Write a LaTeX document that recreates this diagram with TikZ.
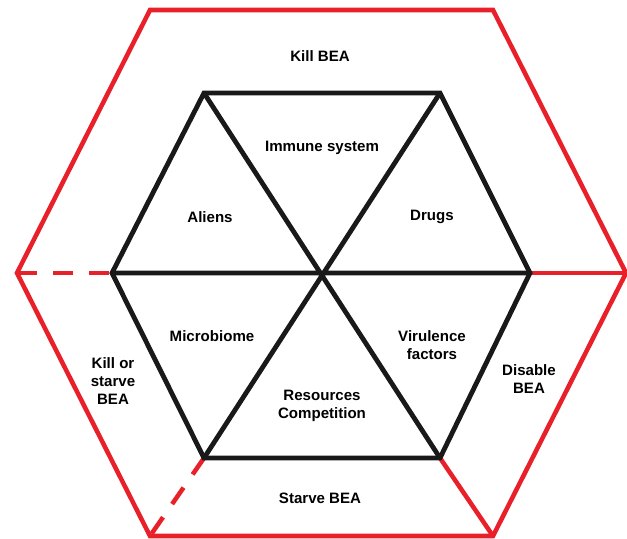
\documentclass[tikz,border=0pt]{standalone}
\usepackage{fontspec}
\setmainfont{Liberation Sans}
\usepackage{xcolor}
\usepackage{tikz}
\definecolor{beared}{HTML}{E8202A}

\begin{document}
\begin{tikzpicture}[x=0.75pt,y=-0.75pt,
    outer/.style={draw=beared,line width=3.4pt,line join=miter},
    inner/.style={draw=black!90,line width=3.6pt,line join=miter},
    dashlink/.style={outer,dash pattern=on 15pt off 12pt},
    lbl/.style={font=\bfseries\fontsize{11.3}{13.8}\selectfont,align=center}]
    \useasboundingbox (0,0) rectangle (627,538);
    % outer hexagon
    \coordinate (o1) at (150,10);  \coordinate (o2) at (493,10);
    \coordinate (o3) at (626,273); \coordinate (o4) at (493,536);
    \coordinate (o5) at (150,536); \coordinate (o6) at (17,273);
    % inner hexagon
    \coordinate (i1) at (204,93);  \coordinate (i2) at (440,93);
    \coordinate (i3) at (530,273); \coordinate (i4) at (440,458);
    \coordinate (i5) at (204,458); \coordinate (i6) at (112,273);
    \coordinate (c) at (322,273);
    \draw[outer] (o1) -- (o2) -- (o3) -- (o4) -- (o5) -- (o6) -- cycle;
    \draw[outer] (i3) -- (o3);
    \draw[outer] (i4) -- (o4);
    \draw[dashlink] (o6) -- (i6);
    \draw[dashlink] (i5) -- (o5);
    \draw[inner] (i1) -- (i2) -- (i3) -- (i4) -- (i5) -- (i6) -- cycle;
    \draw[inner] (i1) -- (i4) (i2) -- (i5) (i3) -- (i6);
    % labels
    \node[lbl] (kill) at (320,56) {Kill BEA};
    \node[lbl] (immune) at (322,148) {Immune system};
    \node[lbl] (aliens) at (210,217) {Aliens};
    \node[lbl] (drugs) at (432,217) {Drugs};
    \node[lbl] (micro) at (212,336) {Microbiome};
    \node[lbl] (viru) at (432,345) {Virulence\\factors};
    \node[lbl] (res) at (322,406) {Resources\\Competition};
    \node[lbl] (kors) at (113,381) {Kill or\\starve\\BEA};
    \node[lbl] (dis) at (529,379) {Disable\\BEA};
    \node[lbl] (starve) at (320,498) {Starve BEA};
\end{tikzpicture}
\end{document}
